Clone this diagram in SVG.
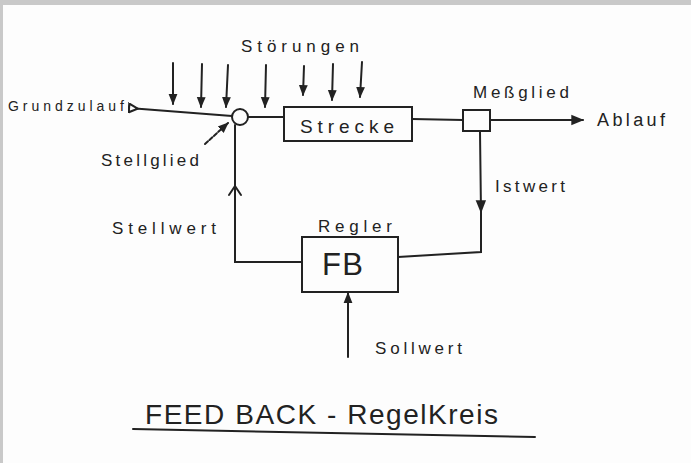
<svg xmlns="http://www.w3.org/2000/svg" width="691" height="463" viewBox="0 0 691 463">
<defs>
<style>
.t{font-family:"Liberation Sans",Arial,sans-serif;fill:#222}
.ln{stroke:#222;stroke-width:2;fill:none;stroke-linecap:round}
.bx{stroke:#222;stroke-width:2;fill:#fdfdfd}
</style>
<marker id="ah" viewBox="0 0 10 10" refX="9" refY="5" markerWidth="11" markerHeight="11" orient="auto" markerUnits="userSpaceOnUse"><path d="M0,1 L10,5 L0,9 Z" fill="#222"/></marker>
<marker id="af" viewBox="0 0 10 10" refX="9" refY="5" markerWidth="13" markerHeight="13" orient="auto" markerUnits="userSpaceOnUse"><path d="M0,1 L10,5 L0,9 Z" fill="#222"/></marker>
<marker id="ao" viewBox="0 0 10 10" refX="1" refY="5" markerWidth="11" markerHeight="11" orient="auto" markerUnits="userSpaceOnUse"><path d="M1,1 L9,5 L1,9 Z" fill="#fdfdfd" stroke="#222" stroke-width="2"/></marker>
</defs>
<rect x="0" y="0" width="691" height="463" fill="#c9c9c9"/>
<rect x="3" y="5" width="688" height="458" fill="#fdfdfd"/>

<g id="connectors">
<path class="ln" d="M129,108 L232,116" marker-start="url(#ao)"/>
<path class="ln" d="M248,117 L284,117"/>
<path class="ln" d="M412,119 L463,120"/>
<path class="ln" d="M490,120 L583,120" marker-end="url(#af)"/>
<path class="ln" d="M480,132 L481,212" marker-end="url(#af)"/>
<path class="ln" d="M481,212 L481,252 L398,257"/>
<path class="ln" d="M302,262 L235,262 L235,125"/>
<path class="ln" d="M229,195 L235,186 L241,195" stroke-width="1.8"/>
<path class="ln" d="M348,357 L348,293" marker-end="url(#ah)"/>
<path class="ln" d="M205,144 L228,123" stroke-dasharray="4,2" marker-end="url(#ah)"/>
<path class="ln" d="M173,63 L173,104" marker-end="url(#ah)"/>
<path class="ln" d="M202,64 L201,107" marker-end="url(#ah)"/>
<path class="ln" d="M228,65 L226,107" marker-end="url(#ah)"/>
<path class="ln" d="M266,65 L265,107" marker-end="url(#ah)"/>
<path class="ln" d="M304,66 L303,95" marker-end="url(#ah)"/>
<path class="ln" d="M333,64 L332,100" marker-end="url(#ah)"/>
<path class="ln" d="M362,62 L360,97" marker-end="url(#ah)"/>
<path class="ln" d="M133,429 L535,437" stroke-width="1.6"/>
</g>

<g id="stellglied"><circle cx="240" cy="117" r="8" class="bx"/></g>
<g id="strecke"><rect x="284" y="107" width="128" height="34" class="bx"/><text class="t" x="300" y="133" font-size="19" textLength="94" lengthAdjust="spacing">Strecke</text></g>
<g id="messglied"><rect x="463" y="110" width="27" height="21" class="bx"/><text class="t" x="473" y="98" font-size="17" textLength="96" lengthAdjust="spacing">Meßglied</text></g>
<g id="regler"><rect x="302" y="237" width="96" height="55" class="bx"/><text class="t" x="322" y="275" font-size="31" textLength="41" lengthAdjust="spacing">FB</text><text class="t" x="318" y="232" font-size="17" textLength="74" lengthAdjust="spacing">Regler</text></g>

<g id="labels">
<text class="t" x="8" y="111" font-size="14" textLength="116" lengthAdjust="spacing">Grundzulauf</text>
<text class="t" x="241" y="52" font-size="17" textLength="118" lengthAdjust="spacing">Störungen</text>
<text class="t" x="101" y="166" font-size="17" textLength="98" lengthAdjust="spacing">Stellglied</text>
<text class="t" x="597" y="126" font-size="18" textLength="68" lengthAdjust="spacing">Ablauf</text>
<text class="t" x="495" y="192" font-size="17" textLength="70" lengthAdjust="spacing">Istwert</text>
<text class="t" x="112" y="234" font-size="17" textLength="104" lengthAdjust="spacing">Stellwert</text>
<text class="t" x="375" y="354" font-size="17" textLength="87" lengthAdjust="spacing">Sollwert</text>
<text class="t" x="145" y="424" font-size="28" textLength="353" lengthAdjust="spacing">FEED BACK - RegelKreis</text>
</g>
</svg>
